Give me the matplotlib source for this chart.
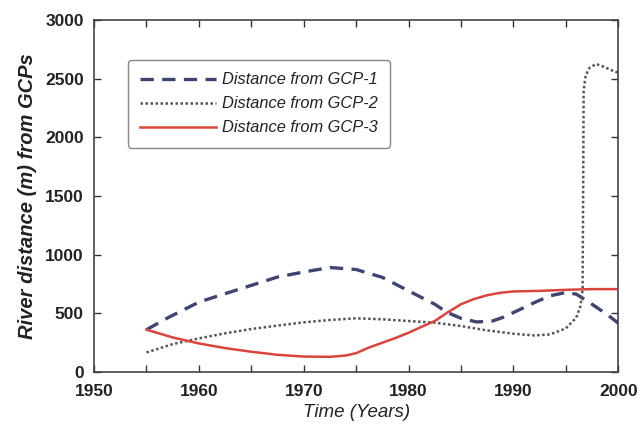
import matplotlib
matplotlib.use('Agg')
import matplotlib.pyplot as plt
from matplotlib.ticker import MultipleLocator

plt.rcParams['font.family'] = ['Liberation Sans', 'DejaVu Sans']

# values
years_gcp1 = [1955, 1957, 1960, 1962.5, 1965, 1967.5, 1970, 1972.5, 1975, 1977.5,
              1980, 1982.5, 1983.6, 1985, 1986.5, 1988, 1989, 1990, 1992, 1993.5,
              1995, 1996, 1997.5, 1999, 2000]
dist_gcp1 = [360, 460, 595, 667, 738, 809, 852, 890, 873, 806,
             691, 577, 511, 457, 426, 434, 465, 506, 591, 649,
             677, 663, 577, 486, 415]

years_gcp2 = [1955, 1957.5, 1960, 1962.5, 1965, 1967.5, 1970, 1972.5, 1975, 1977.5,
              1980, 1982.5, 1985, 1987.5, 1990, 1992, 1993.5, 1995, 1996, 1996.4,
              1996.6, 1996.65, 1996.7, 1996.9, 1997.3, 1997.9, 1998.7, 1999.4, 2000]
dist_gcp2 = [166, 237, 286, 329, 366, 395, 423, 443, 457, 449,
             434, 420, 391, 354, 326, 311, 320, 371, 463, 563,
             700, 1500, 2400, 2530, 2595, 2625, 2598, 2570, 2550]

years_gcp3 = [1955, 1957.5, 1960, 1962.5, 1965, 1967.5, 1970, 1972.5, 1974, 1975,
              1976.2, 1977.5, 1978.8, 1980, 1981.2, 1982.5, 1983.7, 1985, 1986.2, 1987.5,
              1988.7, 1990, 1992.5, 1995, 1997.5, 2000]
dist_gcp3 = [360, 294, 243, 203, 172, 146, 131, 129, 140, 160,
             207, 249, 291, 334, 383, 434, 506, 577, 620, 654,
             674, 686, 691, 700, 706, 706]

labels = ['Distance from GCP-1', 'Distance from GCP-2', 'Distance from GCP-3']

fig = plt.figure(figsize=(6.4, 4.34), dpi=100)
ax = fig.add_axes([0.147, 0.143, 0.819, 0.811])

ax.plot(years_gcp1, dist_gcp1, color='#3f4470', lw=2.4, linestyle=(0, (4, 2.5)), label=labels[0])
ax.plot(years_gcp2, dist_gcp2, color='#555555', lw=1.8, linestyle=(0, (1, 1)), label=labels[1])
ax.plot(years_gcp3, dist_gcp3, color='#d9453b', lw=1.8, label=labels[2])

ax.set_xlim(1950, 2000)
ax.set_ylim(0, 3000)
ax.xaxis.set_major_locator(MultipleLocator(10))
ax.xaxis.set_minor_locator(MultipleLocator(5))
ax.yaxis.set_major_locator(MultipleLocator(500))
ax.tick_params(which='both', direction='in', top=True, right=True, length=5, width=1, color='#333333')
ax.tick_params(axis='x', pad=9)
ax.tick_params(axis='y', pad=7.5)
for t in ax.get_xticklabels() + ax.get_yticklabels():
    t.set_fontweight('bold')
    t.set_fontsize(12.5)
    t.set_color('#222222')

for s in ax.spines.values():
    s.set_color('#444444')
    s.set_linewidth(1.2)

ax.set_xlabel('Time (Years)', fontsize=13.5, style='italic', color='#222222', labelpad=3)
ax.set_ylabel('River distance (m) from GCPs', fontsize=14.5, style='italic', fontweight='bold',
              color='#222222', labelpad=6)

leg = ax.legend(loc='upper left', bbox_to_anchor=(0.065, 0.886), fontsize=11.8, handlelength=4.6,
                borderpad=0.75, labelspacing=0.55, handletextpad=0.35, borderaxespad=0,
                fancybox=True, edgecolor='#888888', framealpha=1)
for t in leg.get_texts():
    t.set_style('italic')
    t.set_color('#222222')

plt.savefig('out.png', dpi=100)
